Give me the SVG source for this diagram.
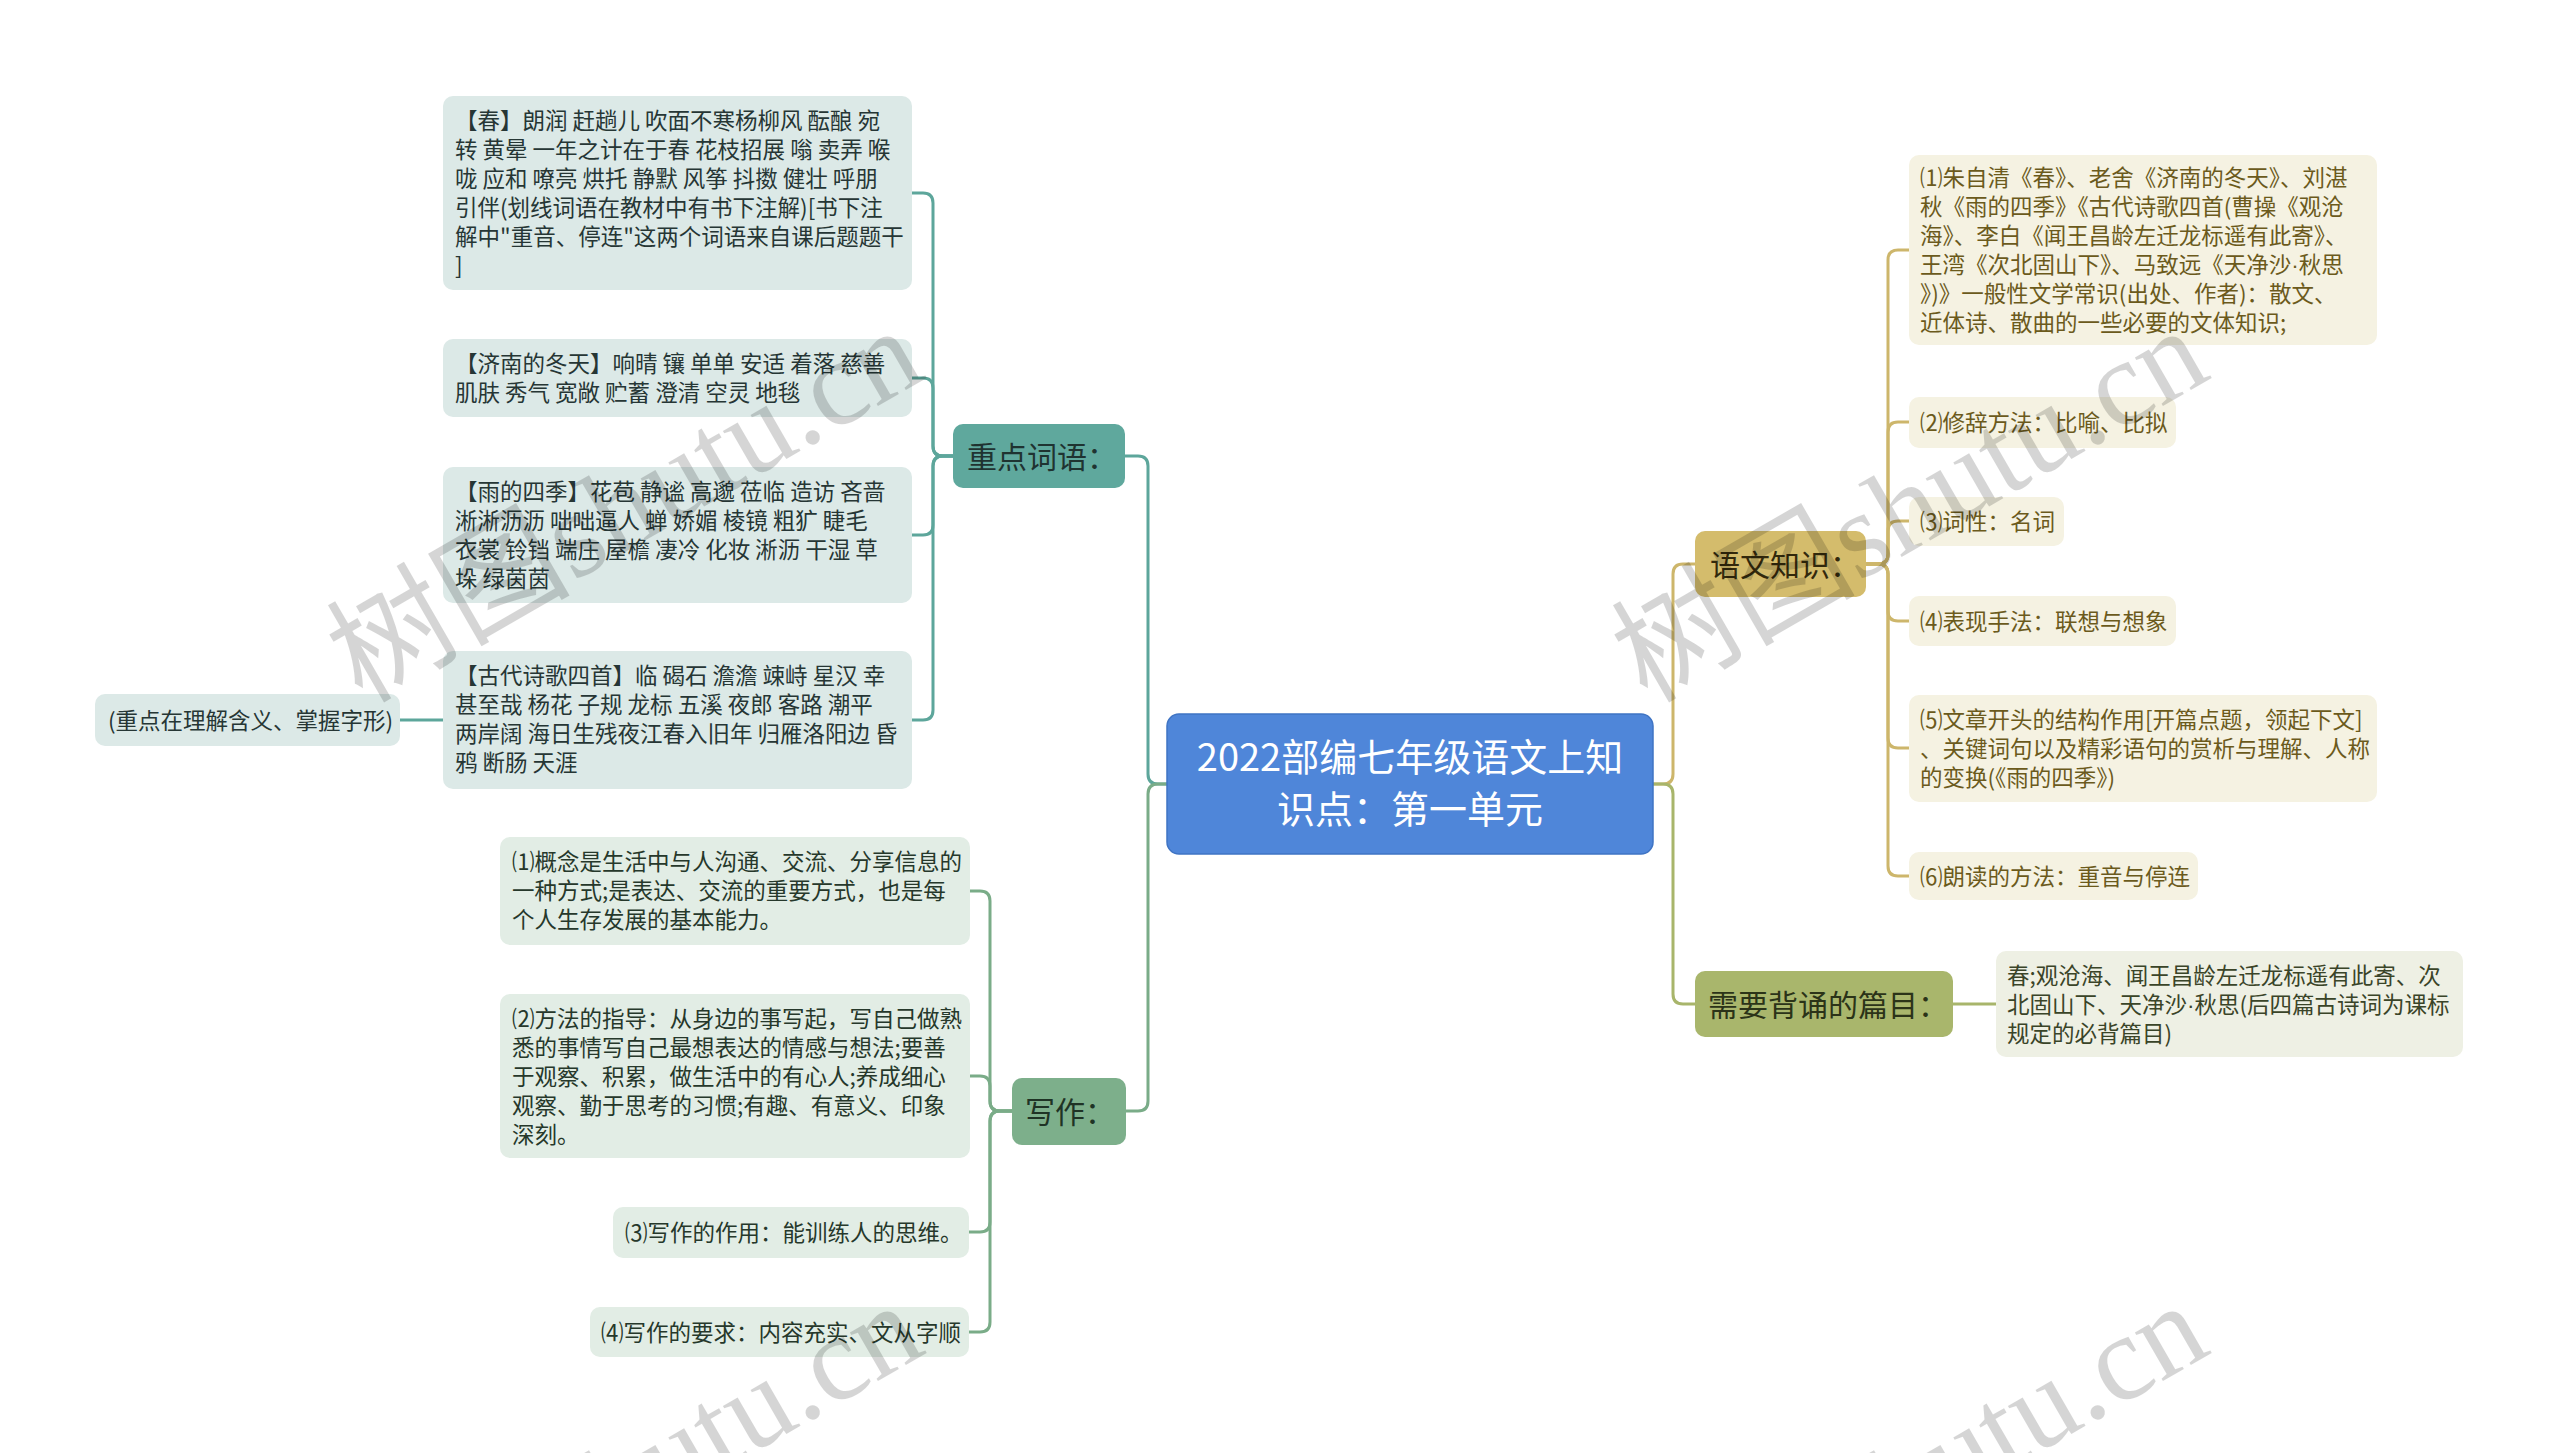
<svg xmlns="http://www.w3.org/2000/svg" width="2560" height="1453" viewBox="0 0 2560 1453">
<style>
.t{font-family:'Noto Sans CJK SC','Noto Sans',sans-serif}
.leaf{font-size:22.5px}
.nt{font-size:30px}
.d{font-family:'Liberation Sans',sans-serif}
.c{fill:none;stroke-width:3;stroke-linecap:round;stroke-linejoin:round}
.teal{stroke:#5da69b}
.green{stroke:#7aac88}
.gold{stroke:#cdb66b}
.olive{stroke:#a8b56b}
.tl{fill:#dce9e7}
.gl{fill:#e2ede5}
.yl{fill:#f5f2e2}
.ol{fill:#eef0e4}
.wm{font-family:'Liberation Serif','Noto Sans CJK SC',serif;font-size:122px;fill:#000;opacity:0.16}
</style>
<rect x="0" y="0" width="2560" height="1453" fill="#ffffff"/>
<g id="connectors">
<path class="c teal" d="M1167,784 H1158 Q1148,784 1148,774 V466 Q1148,456 1138,456 H1125"/>
<path class="c green" d="M1167,784 H1158 Q1148,784 1148,794 V1101 Q1148,1111 1138,1111 H1126"/>
<path class="c gold" d="M1653,784 H1663 Q1673,784 1673,774 V574 Q1673,564 1683,564 H1695"/>
<path class="c olive" d="M1653,784 H1663 Q1673,784 1673,794 V994 Q1673,1004 1683,1004 H1695"/>
<path class="c teal" d="M953,456 H943 Q933,456 933,446 V203 Q933,193 923,193 H912"/>
<path class="c teal" d="M953,456 H943 Q933,456 933,446 V388 Q933,378 923,378 H912"/>
<path class="c teal" d="M953,456 H943 Q933,456 933,466 V525 Q933,535 923,535 H912"/>
<path class="c teal" d="M953,456 H943 Q933,456 933,466 V710 Q933,720 923,720 H912"/>
<path class="c teal" d="M443,720 H400"/>
<path class="c green" d="M1012,1111 H1000 Q990,1111 990,1101 V901 Q990,891 980,891 H970"/>
<path class="c green" d="M1012,1111 H1000 Q990,1111 990,1101 V1086 Q990,1076 980,1076 H970"/>
<path class="c green" d="M1012,1111 H1000 Q990,1111 990,1121 V1222 Q990,1232 980,1232 H969"/>
<path class="c green" d="M1012,1111 H1000 Q990,1111 990,1121 V1322 Q990,1332 980,1332 H969"/>
<path class="c gold" d="M1866,564 H1878 Q1888,564 1888,554 V260 Q1888,250 1898,250 H1909"/>
<path class="c gold" d="M1866,564 H1878 Q1888,564 1888,554 V432 Q1888,422 1898,422 H1909"/>
<path class="c gold" d="M1866,564 H1878 Q1888,564 1888,554 V531 Q1888,521 1898,521 H1909"/>
<path class="c gold" d="M1866,564 H1878 Q1888,564 1888,574 V611 Q1888,621 1898,621 H1909"/>
<path class="c gold" d="M1866,564 H1878 Q1888,564 1888,574 V738 Q1888,748 1898,748 H1909"/>
<path class="c gold" d="M1866,564 H1878 Q1888,564 1888,574 V866 Q1888,876 1898,876 H1909"/>
<path class="c olive" d="M1953,1004 H1996"/>
</g>
<g id="root">
<rect x="1167" y="714" width="486" height="140" rx="12" fill="#4f86d9" stroke="#3f74c4" stroke-width="1.5"/>
<text class="t" font-size="38" fill="#ffffff" text-anchor="middle" x="1410" y="771">2022部编七年级语文上知</text>
<text class="t" font-size="38" fill="#ffffff" text-anchor="middle" x="1410" y="823">识点：第一单元</text>
</g>
<g id="n-words">
<rect x="953" y="424" width="172" height="64" rx="10" fill="#5fa89d"/>
<text class="t nt" fill="#1f3331" x="967" y="467.5">重点词语：</text>
</g>
<g id="n-writing">
<rect x="1012" y="1078" width="114" height="67" rx="10" fill="#7daf8b"/>
<text class="t nt" fill="#1f3325" x="1025" y="1123">写作：</text>
</g>
<g id="n-knowledge">
<rect x="1695" y="531" width="171" height="66" rx="10" fill="#d4bc6c"/>
<text class="t nt" fill="#33290c" x="1710" y="575.5">语文知识：</text>
</g>
<g id="n-recite">
<rect x="1695" y="971" width="258" height="66" rx="10" fill="#a9b66c"/>
<text class="t nt" fill="#2b3318" x="1708" y="1015.5">需要背诵的篇目：</text>
</g>
<g id="w-spring">
<rect class="tl" x="443" y="96" width="469" height="194" rx="10"/>
<text class="t leaf" fill="#263635">
<tspan x="455" y="129">【春】朗润 赶趟儿 吹面不寒杨柳风 酝酿 宛</tspan>
<tspan x="455" y="158">转 黄晕 一年之计在于春 花枝招展 嗡 卖弄 喉</tspan>
<tspan x="455" y="187">咙 应和 嘹亮 烘托 静默 风筝 抖擞 健壮 呼朋</tspan>
<tspan x="455" y="216">引伴(划线词语在教材中有书下注解)[书下注</tspan>
<tspan x="455" y="245">解中"重音、停连"这两个词语来自课后题题干</tspan>
<tspan x="455" y="274">]</tspan>
</text>
</g>
<g id="w-jinan">
<rect class="tl" x="443" y="339" width="469" height="78" rx="10"/>
<text class="t leaf" fill="#263635">
<tspan x="455" y="372">【济南的冬天】响晴 镶 单单 安适 着落 慈善</tspan>
<tspan x="455" y="401">肌肤 秀气 宽敞 贮蓄 澄清 空灵 地毯</tspan>
</text>
</g>
<g id="w-rain">
<rect class="tl" x="443" y="467" width="469" height="136" rx="10"/>
<text class="t leaf" fill="#263635">
<tspan x="455" y="500">【雨的四季】花苞 静谧 高邈 莅临 造访 吝啬</tspan>
<tspan x="455" y="529">淅淅沥沥 咄咄逼人 蝉 娇媚 棱镜 粗犷 睫毛</tspan>
<tspan x="455" y="558">衣裳 铃铛 端庄 屋檐 凄冷 化妆 淅沥 干湿 草</tspan>
<tspan x="455" y="587">垛 绿茵茵</tspan>
</text>
</g>
<g id="w-poems">
<rect class="tl" x="443" y="651" width="469" height="138" rx="10"/>
<text class="t leaf" fill="#263635">
<tspan x="455" y="684">【古代诗歌四首】临 碣石 澹澹 竦峙 星汉 幸</tspan>
<tspan x="455" y="713">甚至哉 杨花 子规 龙标 五溪 夜郎 客路 潮平</tspan>
<tspan x="455" y="742">两岸阔 海日生残夜江春入旧年 归雁洛阳边 昏</tspan>
<tspan x="455" y="771">鸦 断肠 天涯</tspan>
</text>
</g>
<g id="w-note">
<rect class="tl" x="95" y="694" width="305" height="52" rx="10"/>
<text class="t leaf" fill="#263635" x="108" y="728.5">(重点在理解含义、掌握字形)</text>
</g>
<g id="x-1">
<rect class="gl" x="500" y="837" width="470" height="108" rx="10"/>
<text class="t leaf" fill="#26382b">
<tspan x="512" y="870">⑴概念是生活中与人沟通、交流、分享信息的</tspan>
<tspan x="512" y="899">一种方式;是表达、交流的重要方式，也是每</tspan>
<tspan x="512" y="928">个人生存发展的基本能力。</tspan>
</text>
</g>
<g id="x-2">
<rect class="gl" x="500" y="994" width="470" height="164" rx="10"/>
<text class="t leaf" fill="#26382b">
<tspan x="512" y="1027">⑵方法的指导：从身边的事写起，写自己做熟</tspan>
<tspan x="512" y="1056">悉的事情写自己最想表达的情感与想法;要善</tspan>
<tspan x="512" y="1085">于观察、积累，做生活中的有心人;养成细心</tspan>
<tspan x="512" y="1114">观察、勤于思考的习惯;有趣、有意义、印象</tspan>
<tspan x="512" y="1143">深刻。</tspan>
</text>
</g>
<g id="x-3">
<rect class="gl" x="613" y="1207" width="356" height="51" rx="10"/>
<text class="t leaf" fill="#26382b" x="625" y="1241">⑶写作的作用：能训练人的思维。</text>
</g>
<g id="x-4">
<rect class="gl" x="590" y="1307" width="379" height="50" rx="10"/>
<text class="t leaf" fill="#26382b" x="601" y="1340.5">⑷写作的要求：内容充实、文从字顺</text>
</g>
<g id="k-1">
<rect class="yl" x="1909" y="155" width="468" height="190" rx="10"/>
<text class="t leaf" fill="#6b5a1c">
<tspan x="1920" y="186">⑴朱自清《春》、老舍《济南的冬天》、刘湛</tspan>
<tspan x="1920" y="215">秋《雨的四季》《古代诗歌四首(曹操《观沧</tspan>
<tspan x="1920" y="244">海》、李白《闻王昌龄左迁龙标遥有此寄》、</tspan>
<tspan x="1920" y="273">王湾《次北固山下》、马致远《天净沙<tspan class="d">·</tspan>秋思</tspan>
<tspan x="1920" y="302">》)》一般性文学常识(出处、作者)：散文、</tspan>
<tspan x="1920" y="331">近体诗、散曲的一些必要的文体知识;</tspan>
</text>
</g>
<g id="k-2">
<rect class="yl" x="1909" y="397" width="267" height="51" rx="10"/>
<text class="t leaf" fill="#6b5a1c" x="1920" y="431">⑵修辞方法：比喻、比拟</text>
</g>
<g id="k-3">
<rect class="yl" x="1909" y="497" width="155" height="49" rx="10"/>
<text class="t leaf" fill="#6b5a1c" x="1920" y="530">⑶词性：名词</text>
</g>
<g id="k-4">
<rect class="yl" x="1909" y="596" width="267" height="50" rx="10"/>
<text class="t leaf" fill="#6b5a1c" x="1920" y="629.5">⑷表现手法：联想与想象</text>
</g>
<g id="k-5">
<rect class="yl" x="1909" y="695" width="468" height="107" rx="10"/>
<text class="t leaf" fill="#6b5a1c">
<tspan x="1920" y="728">⑸文章开头的结构作用[开篇点题，领起下文]</tspan>
<tspan x="1920" y="757">、关键词句以及精彩语句的赏析与理解、人称</tspan>
<tspan x="1920" y="786">的变换(《雨的四季》)</tspan>
</text>
</g>
<g id="k-6">
<rect class="yl" x="1909" y="852" width="289" height="48" rx="10"/>
<text class="t leaf" fill="#6b5a1c" x="1920" y="884.5">⑹朗读的方法：重音与停连</text>
</g>
<g id="r-1">
<rect class="ol" x="1996" y="951" width="467" height="106" rx="10"/>
<text class="t leaf" fill="#3a4428">
<tspan x="2007" y="983.5">春;观沧海、闻王昌龄左迁龙标遥有此寄、次</tspan>
<tspan x="2007" y="1012.5">北固山下、天净沙<tspan class="d">·</tspan>秋思(后四篇古诗词为课标</tspan>
<tspan x="2007" y="1041.5">规定的必背篇目)</tspan>
</text>
</g>
<g id="watermarks">
<text class="wm" transform="translate(362,704) rotate(-30)">树图shutu.cn</text>
<text class="wm" transform="translate(1647,704) rotate(-30)">树图shutu.cn</text>
<text class="wm" transform="translate(362,1679) rotate(-30)">树图shutu.cn</text>
<text class="wm" transform="translate(1647,1679) rotate(-30)">树图shutu.cn</text>
</g>
</svg>
